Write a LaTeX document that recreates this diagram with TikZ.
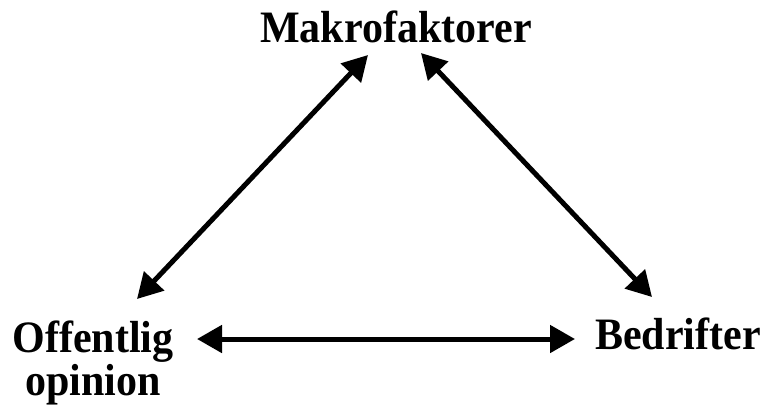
\documentclass[tikz,border=0pt]{standalone}
\usepackage{fontspec}
\setmainfont{Liberation Serif}
\usetikzlibrary{arrows.meta}
\tikzset{
  lbl/.style={inner sep=0pt, anchor=base, align=center, yscale=1.07, transform shape, font=\fontsize{42}{40}\selectfont\bfseries},
  arr/.style={line width=5pt, {Triangle[length=25pt,width=27pt]}-{Triangle[length=25pt,width=27pt]}}
}
\begin{document}
\begin{tikzpicture}[x=1pt,y=-1pt]
\useasboundingbox (0,0) rectangle (769,410);
\node[lbl] (M) at (396,42) {Makrofaktorer};
\node[lbl] (O) at (93,395) {Offentlig\\opinion};
\node[lbl] (B) at (678,349) {Bedrifter};
\draw[arr] ([shift={(44,-96)}]O.base) -- ([shift={(-28,13)}]M.base);
\draw[arr] ([shift={(25,11)}]M.base) -- ([shift={(-26,-52)}]B.base);
\draw[arr] ([shift={(104,-56)}]O.base) -- ([shift={(-103,-10)}]B.base);
\end{tikzpicture}
\end{document}
